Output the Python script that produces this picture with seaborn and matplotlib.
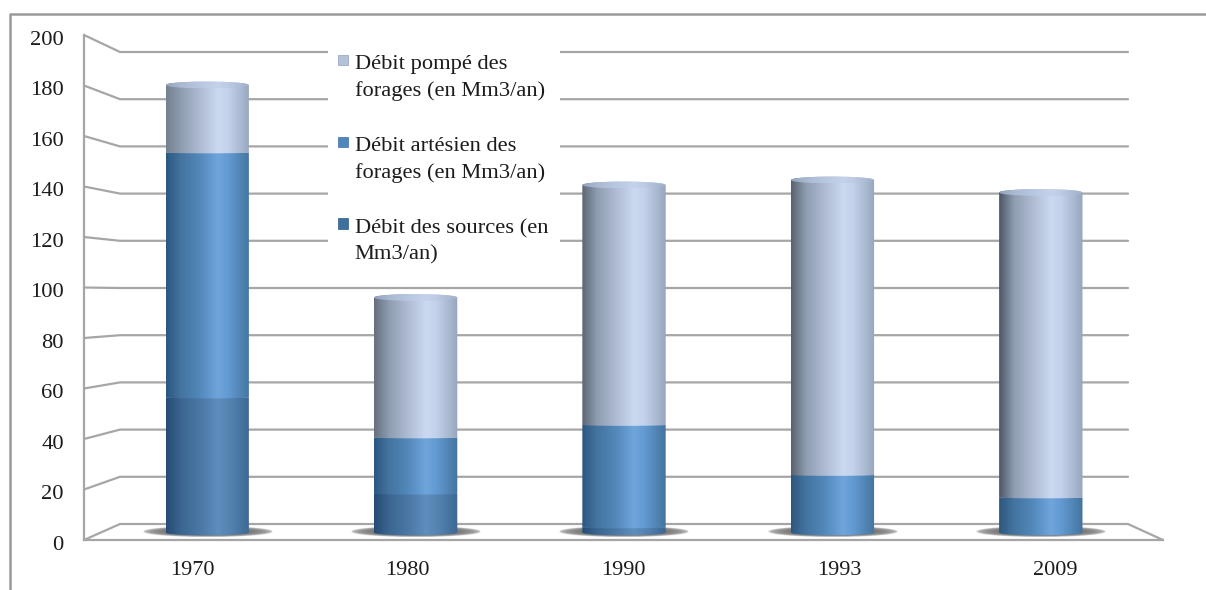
import matplotlib
matplotlib.use('Agg')

import numpy as np
import pandas as pd
import matplotlib.pyplot as plt
import seaborn as sns
from matplotlib.colors import LinearSegmentedColormap
from matplotlib.legend_handler import HandlerPatch
from matplotlib.lines import Line2D
from matplotlib.patches import PathPatch, Patch, Rectangle
from matplotlib.path import Path
from matplotlib.transforms import ScaledTranslation

sns.set_style("white")
plt.rcParams['font.family'] = ['Liberation Serif', 'DejaVu Serif']

W, H = 1206, 590

# data
years = ["1970", "1980", "1990", "1993", "2009"]
sources = [55, 16.5, 3, 0, 0]
artesian = [98, 22.5, 41, 24, 15]
pumped = [27, 56, 96, 118, 122]

label_pumped = "Débit pompé des\nforages (en Mm3/an)"
label_artesian = "Débit artésien des\nforages (en Mm3/an)"
label_sources = "Débit des sources (en\nMm3/an)"
y_ticks = list(range(0, 201, 20))

# colours
GRID = "#a6a6a6"
INK = "#1c1c1c"
stops_pumped = ["#667183", "#8f9db2", "#aebbd2", "#cbd9f0", "#c2d1ea", "#96a6bd"]
stops_artesian = ["#2c5880", "#44749f", "#5288bb", "#6ea5db", "#6299d0", "#44749f"]
stops_sources = ["#254c73", "#3b6691", "#4a77a4", "#5e8ebd", "#5684b2", "#3c6892"]
left_pumped = ["#76808f", "#666f80", "#5c6675", "#58626f", "#4b5766"]
stops_cap = ["#93a4bd", "#a9b9d2", "#b8c7e0", "#c4d2ea", "#bccae3", "#a0b0c9"]
positions = [0, 0.18, 0.4, 0.62, 0.75, 1]


def px_axes(fig, x0, x1, y_top, y_bottom):
    return fig.add_axes([x0 / W, 1 - y_bottom / H, (x1 - x0) / W, (y_bottom - y_top) / H])


fig = plt.figure(figsize=(W / 100, H / 100), dpi=100)

# ─────────────────────────
# outer frame + 3D walls, in pixel coordinates
# ─────────────────────────
bg = fig.add_axes([0, 0, 1, 1], zorder=0)
bg.set_xlim(0, W)
bg.set_ylim(H, 0)
bg.axis('off')
bg.add_line(Line2D([10, 10, W], [H, 14, 14], color="#9a9a9a", lw=1.8))

front_y = lambda v: 540 - 2.525 * v
back_y = lambda v: 524 - 2.36 * v
for v in y_ticks:
    bg.plot([84, 120, 1128], [front_y(v), back_y(v), back_y(v)], color=GRID, lw=1.6,
            solid_joinstyle='miter')
bg.plot([1128, 1163], [back_y(0), front_y(0)], color=GRID, lw=1.6)
# white area behind the legend cuts the back wall lines
bg.add_patch(Rectangle((328, 46), 232, 224, facecolor='white', edgecolor='none', zorder=5))

# ─────────────────────────
# front axis: real ticks and labels
# ─────────────────────────
front = px_axes(fig, 84, 1163, front_y(200), front_y(0))
front.set_zorder(1)
front.patch.set_alpha(0)
front.set_xlim(0, len(years))
front.set_ylim(0, 200)
front.set_yticks(y_ticks)
front.set_xticks(np.arange(len(years) + 1))
front.set_xticklabels([])
front.set_xticks(np.arange(len(years)) + 0.5, minor=True)
front.set_xticklabels(years, minor=True)
front.tick_params(axis='y', length=3, width=1.6, color=GRID, labelsize=16.2, labelcolor=INK, pad=11.5)
front.tick_params(axis='x', which='major', length=3.5, width=1.6, color=GRID, direction='out')
front.tick_params(axis='x', which='minor', length=0, labelsize=16, labelcolor=INK, pad=15)
for lab in front.get_yticklabels():
    lab.set_transform(lab.get_transform() + ScaledTranslation(0, -2 / 72, fig.dpi_scale_trans))
sns.despine(ax=front)
for side in ['left', 'bottom']:
    front.spines[side].set_color(GRID)
    front.spines[side].set_linewidth(1.6)

# ─────────────────────────
# bars: seaborn stacked, then shaded as cylinders
# ─────────────────────────
ax = px_axes(fig, 103, 1145, 35, 535)
ax.set_zorder(3)
ax.patch.set_alpha(0)

df = pd.DataFrame({"year": years, "sources": sources, "artesian": artesian, "pumped": pumped})
bottom = np.zeros(len(years))
layers = [("sources", stops_sources), ("artesian", stops_artesian), ("pumped", stops_pumped)]
n_before = 0
segments = []
for name, stops in layers:
    sns.barplot(data=df, x="year", y=name, bottom=bottom, width=0.4, ax=ax,
                order=years, color=stops[3], errorbar=None)
    new = ax.patches[n_before:]
    n_before = len(ax.patches)
    for i, bar in enumerate(new):
        segments.append((i, name, stops, bar))
    bottom = bottom + df[name].to_numpy()

ax.axis('off')

CAP = 3.4 / 2.5   # half height of the ellipse, in data units
t = np.linspace(-1, 1, 60)
arc = np.sqrt(1 - t ** 2)


def cylinder_path(x0, x1, y0, y1, round_bottom, round_top):
    xs = (x0 + x1) / 2 + t * (x1 - x0) / 2
    # foot of the cylinder: edges a little above the base, centre just under it
    low = y0 + 0.9 - 1.0 * arc if round_bottom else y0 - 0.25 * CAP * arc
    high = y1 + CAP * arc if round_top else y1 + 0 * arc
    verts = np.vstack([np.column_stack([xs, low]), np.column_stack([xs[::-1], high[::-1]])])
    return Path(np.vstack([verts, verts[0]]), closed=True)


def shade(stops, x0, x1, y_low, y_high, path, z):
    cmap = LinearSegmentedColormap.from_list("shade", list(zip(positions, stops)))
    im = ax.imshow(np.linspace(0, 1, 256).reshape(1, -1), cmap=cmap, extent=[x0, x1, y_low, y_high],
                   aspect='auto', zorder=z, interpolation='bilinear')
    im.set_clip_path(PathPatch(path, transform=ax.transData))
    im.set_clip_box(fig.bbox)


# soft shadow on the floor
xx, yy = np.meshgrid(np.linspace(-1, 1, 200), np.linspace(-1, 1, 40))
shadow = np.clip(1 - xx ** 2 - yy ** 2, 0, 1) ** 0.3
shadow_rgba = np.zeros(shadow.shape + (4,))
shadow_rgba[..., :3] = 0.38
shadow_rgba[..., 3] = shadow
for i in range(len(years)):
    im = ax.imshow(shadow_rgba, extent=[i - 0.31, i + 0.31, -0.9, 3.5], aspect='auto',
                   zorder=1, interpolation='bilinear')
    im.set_clip_box(fig.bbox)

for i, name, stops, bar in segments:
    bar.set_visible(False)
    h = bar.get_height()
    if h <= 0:
        continue
    x0, x1 = bar.get_x(), bar.get_x() + bar.get_width()
    y0, y1 = bar.get_y(), bar.get_y() + h
    is_top = name == "pumped"
    if is_top:
        stops = [left_pumped[i]] + stops[1:]
    path = cylinder_path(x0, x1, y0, y1, y0 == 0, is_top)
    z = {"sources": 2, "artesian": 3, "pumped": 4}[name]
    shade(stops, x0, x1, y0 - CAP, y1 + CAP, path, z)
    if is_top:
        # pale top of the cylinder
        xs = (x0 + x1) / 2 + t * (x1 - x0) / 2
        cap = np.vstack([np.column_stack([xs, y1 - CAP * arc]),
                         np.column_stack([xs[::-1], y1 + CAP * arc[::-1]])])
        shade(stops_cap, x0, x1, y1 - CAP, y1 + CAP, Path(np.vstack([cap, cap[0]]), closed=True), 5)

ax.set_xlim(-0.5, len(years) - 0.5)
ax.set_ylim(0, 200)


# ─────────────────────────
# legend
# ─────────────────────────
def raised_square(legend, orig_handle, xdescent, ydescent, width, height, fontsize):
    return Rectangle((-xdescent, -ydescent + 0.8 * fontsize), width, height * 0.85)


handles = [Patch(facecolor="#b4c2d9", edgecolor="#8fa0bb", lw=0.5),
           Patch(facecolor="#4f86bb", edgecolor="#3f6f9f", lw=0.5),
           Patch(facecolor="#3f6f9f", edgecolor="#2f5a84", lw=0.5)]
leg = fig.legend(handles, [label_pumped, label_artesian, label_sources],
                 handler_map={Patch: HandlerPatch(patch_func=raised_square)},
                 loc='upper left', bbox_to_anchor=(331 / W, 1 - 48 / H),
                 frameon=False, fontsize=16.2, labelcolor=INK,
                 handlelength=0.45, handleheight=0.45,
                 handletextpad=0.3, labelspacing=1.6, borderpad=0.3, borderaxespad=0,
                 alignment='left')
for txt in leg.get_texts():
    txt.set_linespacing(1.48)
leg.set_zorder(2)

fig.savefig("out.png", dpi=100)
